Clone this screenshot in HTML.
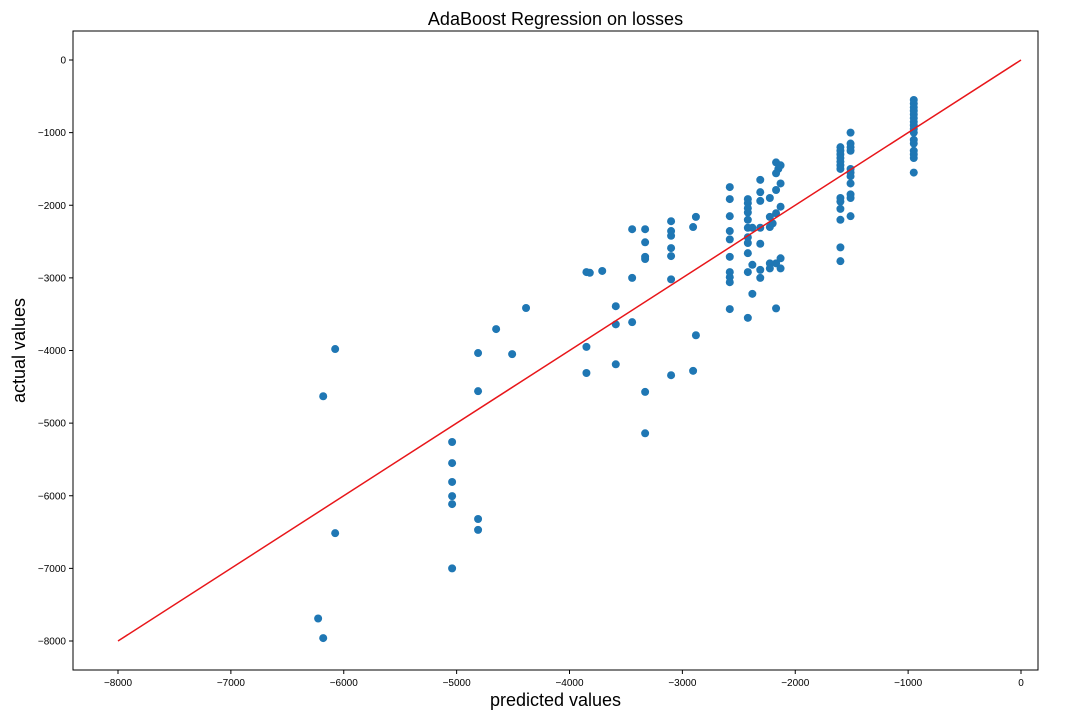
<!DOCTYPE html>
<html><head><meta charset="utf-8"><style>
body{margin:0;background:#fff;width:1080px;height:720px;overflow:hidden;font-family:"Liberation Sans",sans-serif}
</style></head><body>
<svg id="chart" width="1080" height="720" xmlns="http://www.w3.org/2000/svg" font-family="Liberation Sans, sans-serif"></svg>
<script>
const xTicks=[-8000,-7000,-6000,-5000,-4000,-3000,-2000,-1000,0];
const yTicks=[0,-1000,-2000,-3000,-4000,-5000,-6000,-7000,-8000];
const predicted=[
-950,-950,-950,-950,-950,-950,-950,-950,-950,-950,-950,-950,-950,-950,-950,-950,
-1600,-1600,-1600,-1600,-1600,-1600,-1600,-1600,-1600,-1600,-1600,-1600,-1600,
-1510,-1510,-1510,-1510,-1510,-1510,-1510,-1510,-1510,-1510,-1510,
-2580,-2580,-2580,-2580,-2580,-2580,-2580,-2580,-2580,-2580,
-2420,-2420,-2420,-2420,-2420,-2420,-2420,-2420,-2420,-2420,-2420,-2380,-2380,-2380,
-2310,-2310,-2310,-2310,-2310,-2310,-2310,
-2170,-2130,-2150,-2170,-2130,-2170,-2225,-2130,-2170,-2225,-2225,-2200,-2170,-2130,-2225,-2225,-2130,-2170,
-3850,-3820,-3850,-3850,-3710,-3590,-3590,-3590,-3445,-3445,-3445,
-3330,-3330,-3330,-3330,-3330,-3330,-3100,-3100,-3100,-3100,-3100,-3100,-3100,
-2905,-2880,-2880,-2905,
-6076,-6182,-6076,-6227,-6182,
-5040,-5040,-5040,-5040,-5040,-5040,-4810,-4810,-4810,-4810,-4650,-4508,-4385];
const actual=[
-550,-600,-650,-700,-750,-800,-850,-900,-950,-1000,-1100,-1150,-1250,-1300,-1350,-1550,
-1200,-1250,-1300,-1350,-1400,-1450,-1500,-1900,-1950,-2050,-2200,-2580,-2770,
-1000,-1150,-1200,-1250,-1500,-1550,-1600,-1700,-1850,-1900,-2150,
-1750,-1915,-2150,-2355,-2470,-2710,-2920,-2990,-3060,-3430,
-1915,-1970,-2040,-2100,-2200,-2310,-2440,-2520,-2660,-2920,-3550,-2310,-2820,-3220,
-1650,-1820,-1940,-2310,-2530,-2890,-3000,
-1410,-1450,-1500,-1560,-1700,-1790,-1900,-2020,-2110,-2160,-2300,-2250,-2800,-2870,-2800,-2870,-2730,-3420,
-2920,-2930,-3950,-4310,-2905,-3390,-3640,-4190,-2330,-3000,-3610,
-2330,-2510,-2710,-2740,-4570,-5140,-2220,-2355,-2420,-2590,-2700,-3020,-4340,
-2300,-2160,-3790,-4280,
-3980,-4630,-6515,-7690,-7960,
-5260,-5550,-5810,-6005,-6115,-7000,-4035,-4560,-6320,-6470,-3705,-4050,-3415];
const NS='http://www.w3.org/2000/svg';
const svg=document.getElementById('chart');
const L=73,R=1038,T=31,B=670;
function sx(v){return 1021+(v/1000)*112.875;}
function sy(v){return 60-(v/1000)*72.625;}
function el(tag,attrs,parent){const e=document.createElementNS(NS,tag);for(const k in attrs)e.setAttribute(k,attrs[k]);(parent||svg).appendChild(e);return e;}
const frame=el('rect',{x:L,y:T,width:R-L,height:B-T,fill:'none',stroke:'#000','stroke-width':1});


xTicks.forEach(t=>{
  const x=sx(t);
  const l=el('line',{x1:x,x2:x,y1:B,y2:B+4,stroke:'#000'});
  
  
  const tx=el('text',{x:x,y:B+16,'font-size':10,'text-anchor':'middle',fill:'#000'});
  tx.textContent=t===0?'0':'−'+Math.abs(t);
  
  
});
yTicks.forEach(t=>{
  const y=sy(t);
  const l=el('line',{x1:L-4,x2:L,y1:y,y2:y,stroke:'#000'});
  
  
  const tx=el('text',{x:L-7,y:y+3.5,'font-size':10,'text-anchor':'end',fill:'#000'});
  tx.textContent=t===0?'0':'−'+Math.abs(t);
  
  
});
predicted.forEach((p,i)=>{
  const c=el('circle',{cx:sx(p),cy:sy(actual[i]),r:4,fill:'#1f77b4'});
  
  
});
const ln=el('line',{x1:sx(-8000),y1:sy(-8000),x2:sx(0),y2:sy(0),stroke:'#e8161a','stroke-width':1.5});


const title=el('text',{x:(L+R)/2,y:25,'font-size':18,'text-anchor':'middle',fill:'#000'});
title.textContent='AdaBoost Regression on losses';


const xl=el('text',{x:(L+R)/2,y:706,'font-size':18,'text-anchor':'middle',fill:'#000'});
xl.textContent='predicted values';


const yl=el('text',{x:25,y:(T+B)/2,'font-size':18,'text-anchor':'middle',fill:'#000',transform:'rotate(-90 25 '+((T+B)/2)+')'});
yl.textContent='actual values';


</script>
</body></html>
